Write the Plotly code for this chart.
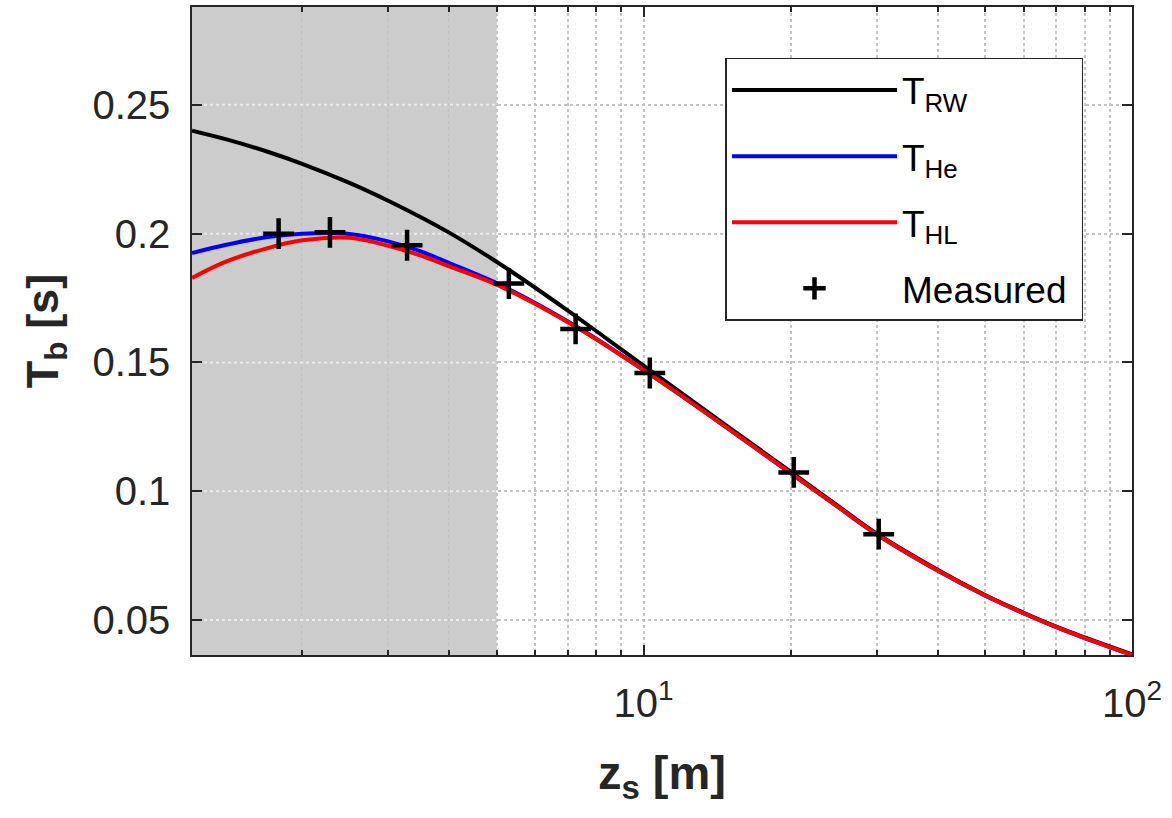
import numpy as np
import plotly.graph_objects as go

# ---- data ----
z_s = [1.19, 1.4, 1.7, 2, 2.5, 3, 3.5, 4, 5, 6, 7, 8, 10, 12, 15, 20, 25, 30, 40, 50, 60, 70, 80, 90, 100]
T_RW = [0.2400, 0.2366, 0.2318, 0.2271, 0.2197, 0.2128, 0.2064, 0.2004, 0.1891, 0.1790, 0.1701, 0.1622,
        0.1488, 0.1379, 0.1246, 0.1076, 0.0943, 0.0836, 0.0695, 0.0597, 0.0528, 0.0474, 0.0432, 0.0397, 0.0366]
T_He = [0.1925, 0.1957, 0.1987, 0.2000, 0.1999, 0.1970, 0.1931, 0.1886, 0.1808, 0.1731, 0.1659, 0.1592,
        0.1471, 0.1369, 0.1239, 0.1070, 0.0939, 0.0833, 0.0692, 0.0595, 0.0526, 0.0472, 0.0430, 0.0395, 0.0364]
T_HL = [0.1828, 0.1892, 0.1944, 0.1974, 0.1984, 0.1953, 0.1915, 0.1873, 0.1802, 0.1727, 0.1656, 0.1590,
        0.1470, 0.1368, 0.1239, 0.1070, 0.0939, 0.0833, 0.0692, 0.0595, 0.0526, 0.0472, 0.0430, 0.0395, 0.0364]

meas_z = [1.79, 2.28, 3.28, 5.30, 7.26, 10.3, 20.3, 30.3]
meas_T = [0.2000, 0.2005, 0.1955, 0.1806, 0.1630, 0.1459, 0.1073, 0.0833]

x_range = [1.19, 100]
y_range = [0.0364, 0.288]
shade_range = [1.19, 5]

y_ticks = [0.05, 0.1, 0.15, 0.2, 0.25]
y_ticktext = ["0.05", "0.1", "0.15", "0.2", "0.25"]
x_ticks = [10, 100]
x_ticktext = ["10<sup>1</sup>", "10<sup>2</sup>"]
x_minor = [2, 3, 4, 5, 6, 7, 8, 9, 20, 30, 40, 50, 60, 70, 80, 90]

FONT = "Liberation Sans, Arial, Helvetica, sans-serif"
AX = "#262626"
GRID = "#c4c4c4"
GRID_SHADE = "#ececec"

fig = go.Figure()

fig.add_trace(go.Scatter(x=z_s, y=T_RW, mode="lines", name="T<sub>RW</sub>", legendgroup="a",
                         line=dict(color="black", width=4, shape="spline")))
fig.add_trace(go.Scatter(x=z_s, y=T_He, mode="lines", name="T<sub>He</sub>", legendgroup="b",
                         line=dict(color="#0000ff", width=4, shape="spline")))
fig.add_trace(go.Scatter(x=z_s, y=T_HL, mode="lines", name="T<sub>HL</sub>", legendgroup="c",
                         line=dict(color="#ff0000", width=4, shape="spline")))
fig.add_trace(go.Scatter(x=meas_z, y=meas_T, mode="markers", name="Measured&nbsp;", legendgroup="d",
                         marker=dict(symbol="cross-thin", size=22, color="black",
                                     line=dict(color="black", width=4.5))))

# shaded region
shapes = [dict(type="rect", xref="x", yref="paper", x0=shade_range[0], x1=shade_range[1],
               y0=0, y1=1, fillcolor="#cccccc", line=dict(width=0), layer="below")]
# lighter grid inside the shaded region
for yv in y_ticks:
    shapes.append(dict(type="line", xref="x", yref="y", x0=shade_range[0], x1=shade_range[1],
                       y0=yv, y1=yv, line=dict(color=GRID_SHADE, width=2, dash="dot"), layer="between"))
for xv in x_minor:
    if shade_range[0] < xv < shade_range[1]:
        shapes.append(dict(type="line", xref="x", yref="paper", x0=xv, x1=xv, y0=1, y1=0,
                           line=dict(color=GRID_SHADE, width=2, dash="dot"), layer="between"))

fig.update_layout(
    width=1172, height=818,
    margin=dict(l=192, r=40, t=7, b=163, autoexpand=False),
    paper_bgcolor="white", plot_bgcolor="white",
    font=dict(family=FONT, color=AX, size=40),
    shapes=shapes,
    showlegend=True,
    legend=dict(x=0.9484, xanchor="right", y=0.9213, yanchor="top",
                bgcolor="white", bordercolor=AX, borderwidth=1.5,
                font=dict(family=FONT, size=37, color="black"),
                itemwidth=165, tracegroupgap=15),
    xaxis=dict(type="log", range=[np.log10(x_range[0]), np.log10(x_range[1])],
               tickmode="array", tickvals=x_ticks, ticktext=x_ticktext,
               ticks="inside", ticklen=10, tickwidth=1.5, tickcolor=AX,
               showline=True, linecolor=AX, linewidth=1.5, mirror="ticks",
               showgrid=True, gridcolor=GRID, gridwidth=1.5, griddash="dot",
               zeroline=False, tickfont=dict(size=40, color=AX), ticklabelstandoff=12,
               minor=dict(tickmode="array", tickvals=x_minor, ticks="inside", ticklen=5,
                          tickwidth=1.5, tickcolor=AX, showgrid=True, gridcolor=GRID,
                          gridwidth=1.5, griddash="dot"),
               title=dict(text="z<sub>s</sub> [m]", font=dict(size=47, color=AX, weight="bold"),
                          standoff=32),
               automargin=False),
    yaxis=dict(range=y_range, tickmode="array", tickvals=y_ticks, ticktext=y_ticktext,
               ticks="inside", ticklen=10, tickwidth=1.5, tickcolor=AX,
               showline=True, linecolor=AX, linewidth=1.5, mirror="ticks",
               showgrid=True, gridcolor=GRID, gridwidth=1.5, griddash="dot",
               zeroline=False, tickfont=dict(size=40, color=AX), ticklabelstandoff=12,
               title=dict(text="T<sub>b</sub> [s]", font=dict(size=45, color=AX, weight="bold"),
                          standoff=20),
               automargin=False),
)

fig.write_html("out.html")
